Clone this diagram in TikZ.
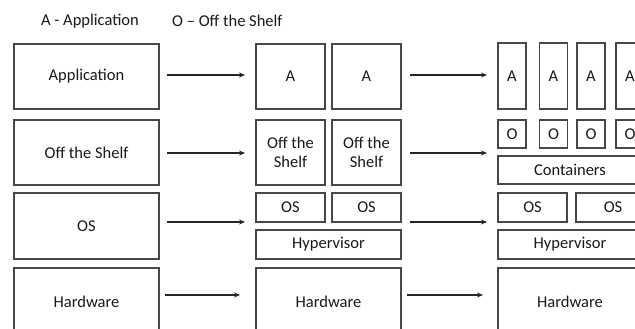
\documentclass[tikz,border=0pt]{standalone}
\usepackage{fontspec}
\setmainfont{Carlito}
\usetikzlibrary{arrows.meta}
\begin{document}
\begin{tikzpicture}[x=1pt,y=-1pt,
  bx/.style={draw=black!72, line width=1.3pt, inner sep=0pt, align=center,
    font=\fontsize{16.5}{19.5}\selectfont, text=black!90},
  arr/.style={draw=black!85, line width=1.2pt, -{Stealth[length=6pt,width=5pt]}},
  lbl/.style={font=\fontsize{16.5}{19.5}\selectfont, text=black!90, inner sep=0pt}]
\useasboundingbox (0,0) rectangle (635,329);
\clip (0,0) rectangle (635,329);
% legend
\node[lbl] (leg1) at (90,21) {A - Application};
\node[lbl, anchor=west] (leg2) at (172,21) {O – Off the Shelf};
% left column
\node[bx, minimum width=145pt, minimum height=65pt] (L1) at (86.5,76.5) {Application};
\node[bx, minimum width=145pt, minimum height=65pt] (L2) at (86.5,152.5) {Off the Shelf};
\node[bx, minimum width=145pt, minimum height=66pt] (L3) at (86.5,226) {OS};
\node[bx, minimum width=145pt, minimum height=68pt] (L4) at (86.5,302) {Hardware};
% middle column
\node[bx, minimum width=69pt, minimum height=65pt] (M1a) at (290.5,76.5) {A};
\node[bx, minimum width=69pt, minimum height=65pt] (M1b) at (366.5,76.5) {A};
\node[bx, minimum width=69pt, minimum height=65pt] (M2a) at (290.5,152.5) {Off the\\Shelf};
\node[bx, minimum width=69pt, minimum height=65pt] (M2b) at (366.5,152.5) {Off the\\Shelf};
\node[bx, minimum width=69pt, minimum height=29pt] (M3a) at (290.5,207.5) {OS};
\node[bx, minimum width=69pt, minimum height=29pt] (M3b) at (366.5,207.5) {OS};
\node[bx, minimum width=145pt, minimum height=29pt] (M3h) at (328.5,244.5) {Hypervisor};
\node[bx, minimum width=145pt, minimum height=68pt] (M4) at (328.5,302) {Hardware};
% right column
\node[bx, minimum width=28pt, minimum height=66pt] (R1a) at (512,76) {A};
\node[bx, minimum width=28pt, minimum height=66pt] (R1b) at (553.5,76) {A};
\node[bx, minimum width=28pt, minimum height=66pt] (R1c) at (591,76) {A};
\node[bx, minimum width=28pt, minimum height=66pt] (R1d) at (630,76) {A};
\node[bx, minimum width=28pt, minimum height=28pt] (R2a) at (512,134) {O};
\node[bx, minimum width=28pt, minimum height=28pt] (R2b) at (553.5,134) {O};
\node[bx, minimum width=28pt, minimum height=28pt] (R2c) at (591,134) {O};
\node[bx, minimum width=28pt, minimum height=28pt] (R2d) at (630,134) {O};
\node[bx, minimum width=144pt, minimum height=28pt] (R2k) at (570,170) {Containers};
\node[bx, minimum width=69pt, minimum height=29pt] (R3a) at (532.5,207.5) {OS};
\node[bx, minimum width=74pt, minimum height=29pt] (R3b) at (613,207.5) {OS};
\node[bx, minimum width=144pt, minimum height=29pt] (R3h) at (570,244.5) {Hypervisor};
\node[bx, minimum width=144pt, minimum height=68pt] (R4) at (570,302) {Hardware};
% arrow end points
\coordinate (a1s) at (167,75);  \coordinate (a1e) at (245,75);
\coordinate (a2s) at (167,153); \coordinate (a2e) at (245,153);
\coordinate (a3s) at (167,222); \coordinate (a3e) at (245,222);
\coordinate (a4s) at (165,295); \coordinate (a4e) at (240,295);
\coordinate (b1s) at (410,75);  \coordinate (b1e) at (487,75);
\coordinate (b2s) at (410,153); \coordinate (b2e) at (487,153);
\coordinate (b3s) at (410,222); \coordinate (b3e) at (487,222);
\coordinate (b4s) at (407,295); \coordinate (b4e) at (483,295);
\draw[arr] (a1s) -- (a1e);
\draw[arr] (a2s) -- (a2e);
\draw[arr] (a3s) -- (a3e);
\draw[arr] (a4s) -- (a4e);
\draw[arr] (b1s) -- (b1e);
\draw[arr] (b2s) -- (b2e);
\draw[arr] (b3s) -- (b3e);
\draw[arr] (b4s) -- (b4e);
\end{tikzpicture}
\end{document}
